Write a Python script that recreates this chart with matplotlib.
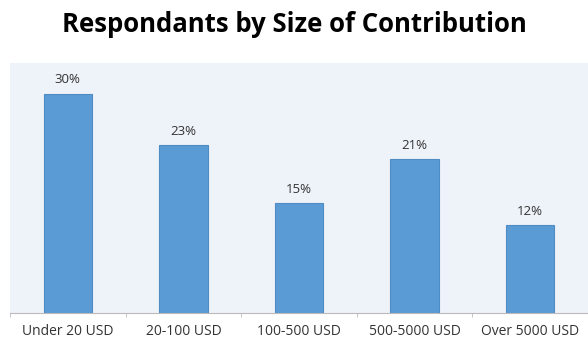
import matplotlib.pyplot as plt

categories = ["Under 20 USD", "20-100 USD", "100-500 USD", "500-5000 USD", "Over 5000 USD"]
shares = [30, 23, 15, 21, 12]
labels = ["30%", "23%", "15%", "21%", "12%"]

fig = plt.figure(figsize=(5.88, 3.43), dpi=100)
ax = fig.add_axes([0.017, 0.0875, 0.983, 0.729])
ax.set_facecolor("#eef2f9")

x = range(len(categories))
bars = ax.bar(x, shares, width=0.42, color="#5b9bd5", edgecolor="#4f8cc4", linewidth=0.8)

# percentage above each bar
for b, lab in zip(bars, labels):
    ax.text(b.get_x() + b.get_width() / 2, b.get_height() + 1.0, lab,
            ha="center", va="bottom", fontsize=9.5, color="#333333", family="Open Sans")

ax.set_xlim(-0.5, len(categories) - 0.5)
ax.set_ylim(0, 34.2)
ax.set_yticks([])
ax.set_xticks(x)
ax.set_xticklabels(categories, fontsize=10, color="#333333", family="Open Sans")
ax.set_xticks([i - 0.5 for i in range(len(categories) + 1)], minor=True)
ax.tick_params(axis="x", which="major", length=0, pad=8)
ax.tick_params(axis="x", which="minor", length=3, color="#bbbbbb")

for s in ["top", "right", "left"]:
    ax.spines[s].set_visible(False)
ax.spines["bottom"].set_color("#bbbbbb")

fig.text(0.5, 0.93, "Respondants by Size of Contribution", ha="center", va="center",
         fontsize=18.5, fontweight="bold", family="Open Sans")

fig.savefig("out.png", dpi=100)
